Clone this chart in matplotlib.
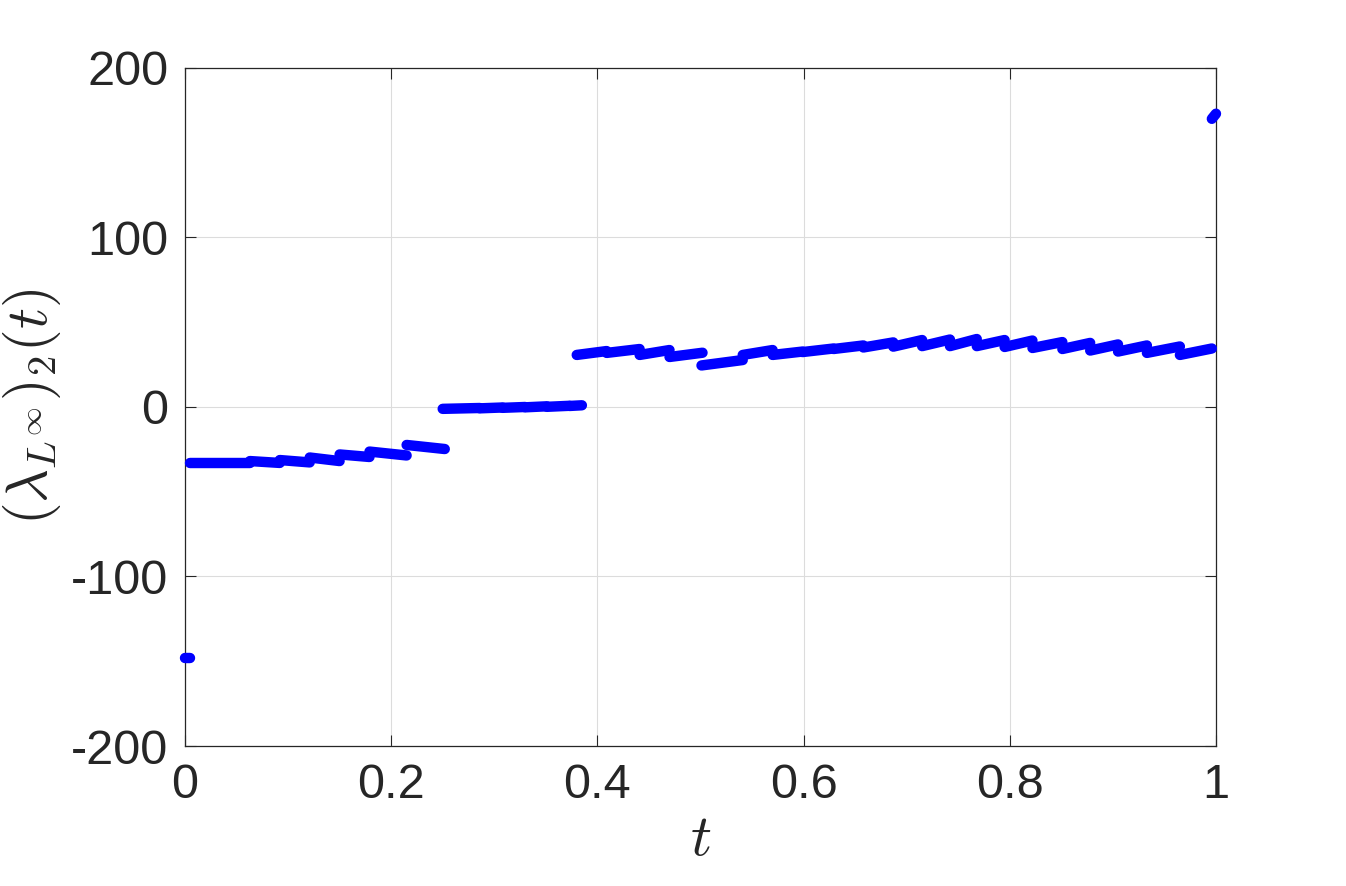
import matplotlib.pyplot as plt

# piecewise pieces of the multiplier: start/end time and start/end value
t_start = [0.000, 0.005, 0.063, 0.092, 0.121, 0.150, 0.179, 0.215,
           0.250, 0.286, 0.308, 0.330, 0.351, 0.373,
           0.380, 0.409, 0.441, 0.470,
           0.501, 0.541, 0.570, 0.599, 0.629, 0.658, 0.687, 0.715, 0.742,
           0.768, 0.795, 0.822, 0.851, 0.878, 0.905, 0.933, 0.965, 0.996]
t_end = [0.005, 0.063, 0.092, 0.121, 0.150, 0.179, 0.215, 0.252,
         0.286, 0.308, 0.330, 0.351, 0.373, 0.385,
         0.409, 0.441, 0.470, 0.502,
         0.541, 0.570, 0.599, 0.629, 0.658, 0.687, 0.715, 0.742, 0.768,
         0.795, 0.822, 0.851, 0.878, 0.905, 0.933, 0.965, 0.996, 1.000]
y_start = [-148.0, -33.3, -31.9, -31.3, -29.8, -28.0, -26.3, -22.4,
           -1.1, -0.8, -0.5, -0.2, 0.1, 0.6,
           30.7, 31.9, 30.7, 29.5,
           24.5, 30.7, 30.7, 32.4, 34.2, 35.1, 35.6, 35.9, 35.9,
           35.9, 35.4, 34.8, 34.2, 33.3, 32.7, 31.9, 30.7, 170.0]
y_end = [-148.0, -33.3, -33.0, -32.7, -31.9, -29.5, -28.6, -24.8,
         -0.6, -0.3, 0.0, 0.4, 0.7, 1.0,
         33.0, 34.2, 33.6, 32.0,
         27.7, 33.6, 32.7, 34.5, 36.3, 38.1, 39.5, 39.8, 40.1,
         39.5, 39.2, 38.3, 37.8, 36.9, 36.3, 35.7, 34.5, 173.0]

xticks = [0, 0.2, 0.4, 0.6, 0.8, 1]
xticklabels = ['0', '0.2', '0.4', '0.6', '0.8', '1']
yticks = [-200, -100, 0, 100, 200]
yticklabels = ['-200', '-100', '0', '100', '200']

plt.rcParams['font.family'] = ['Liberation Sans', 'DejaVu Sans']
plt.rcParams['mathtext.fontset'] = 'cm'

fig = plt.figure(figsize=(13.46, 8.86), dpi=100)
ax = fig.add_axes([0.1374, 0.158, 0.766, 0.7653])

for a, b, c, d in zip(t_start, t_end, y_start, y_end):
    ax.plot([a, b], [c, d], color='#0000ff', lw=7.5,
            solid_capstyle='round', clip_on=False, zorder=3)

ax.set_xlim(0, 1)
ax.set_ylim(-200, 200)
ax.set_xticks(xticks)
ax.set_xticklabels(xticklabels)
ax.set_yticks(yticks)
ax.set_yticklabels(yticklabels)
ax.grid(True, color='#dcdcdc', lw=0.8)
ax.set_axisbelow(True)
ax.tick_params(direction='in', length=8, width=0.8, top=True, right=True,
               labelsize=35, colors='#262626', pad=12)
for s in ax.spines.values():
    s.set_color('#262626')
    s.set_linewidth(0.9)

ax.set_xlabel('$t$', fontsize=42, color='#262626', labelpad=4)
ax.set_ylabel(r'$(\lambda_{L^\infty})_2(t)$', fontsize=42, color='#262626',
              labelpad=6)

fig.savefig('out.png', dpi=100)
